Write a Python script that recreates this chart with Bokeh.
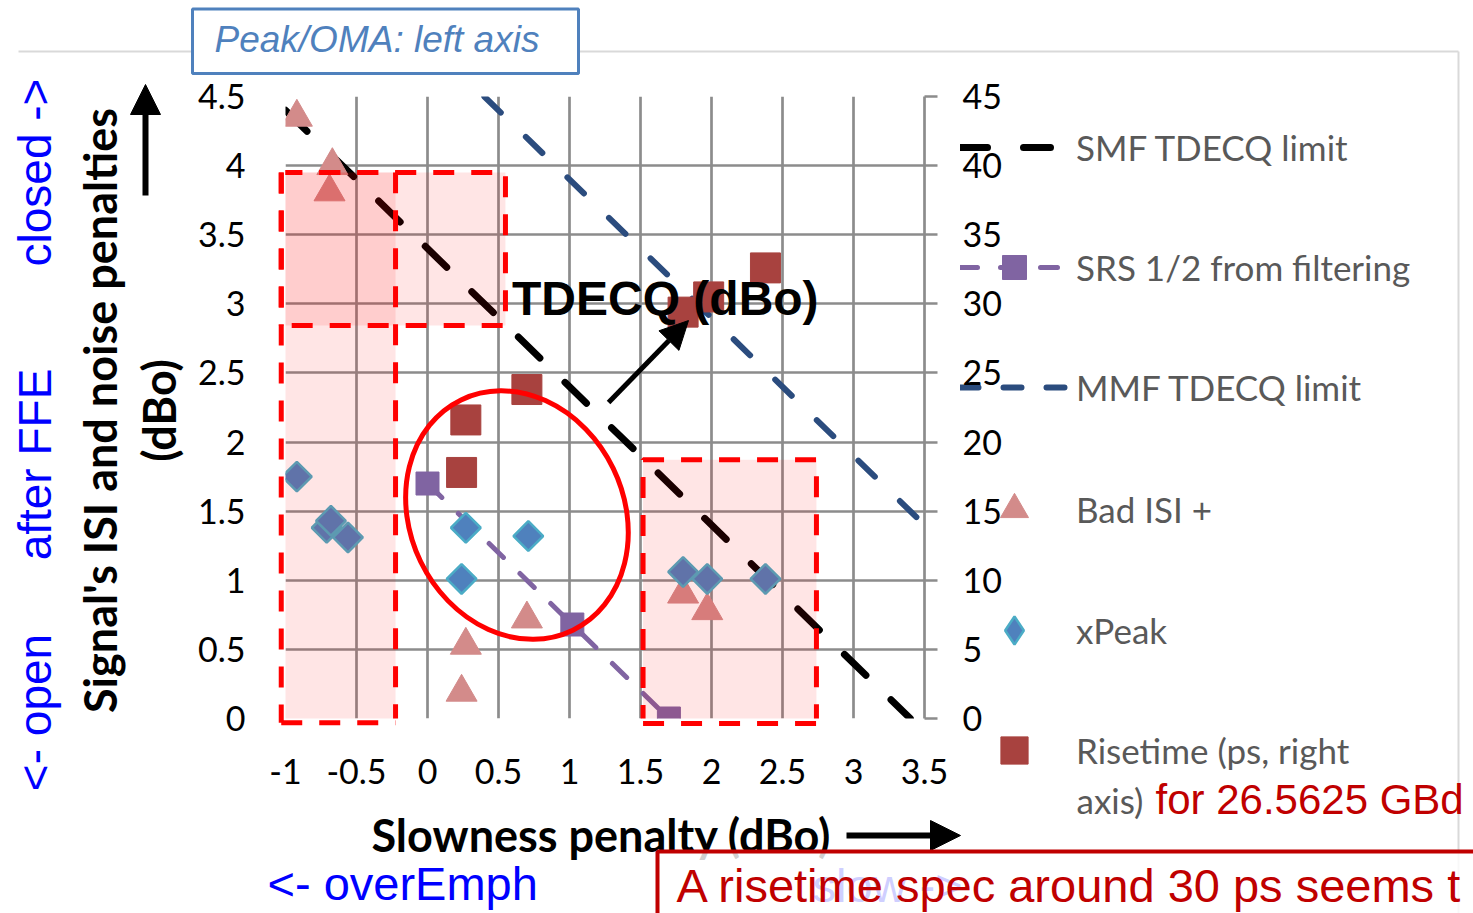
import math
from bokeh.plotting import figure
from bokeh.models import (Range1d, LinearAxis, FixedTicker, NumeralTickFormatter, Label,
                          BoxAnnotation, Arrow, NormalHead, Legend, LegendItem, GridBox)
from bokeh.embed import file_html
from bokeh.resources import INLINE

W, H = 1473, 913
NAN = float("nan")

# ---------------- data ----------------
x_ticks = [-1, -0.5, 0, 0.5, 1, 1.5, 2, 2.5, 3, 3.5]
y_ticks = [0, 0.5, 1, 1.5, 2, 2.5, 3, 3.5, 4, 4.5]
y2_ticks = [0, 5, 10, 15, 20, 25, 30, 35, 40, 45]

smf_x = [-1.0, 3.4]
smf_y = [4.4, 0.0]
mmf_x = [0.4, 3.5]
mmf_y = [4.5, 1.4]
srs_x = [0.0, 1.02, 1.70]
srs_y = [1.70, 0.68, 0.0]
bad_x = [-0.92, -0.67, -0.69, 0.27, 0.24, 0.70, 1.80, 1.97]
bad_y = [4.35, 4.00, 3.81, 0.53, 0.19, 0.72, 0.90, 0.78]
xpk_x = [-0.92, -0.71, -0.68, -0.56, 0.27, 0.71, 0.24, 1.80, 1.97, 2.38]
xpk_y = [1.75, 1.38, 1.43, 1.31, 1.38, 1.32, 1.01, 1.06, 1.01, 1.01]
rt_x = [0.27, 0.24, 0.70, 1.80, 1.98, 2.38]
rt_y = [21.6, 17.8, 23.8, 29.4, 30.5, 32.6]

legend_labels = ["SMF TDECQ limit", "SRS 1/2 from filtering", "MMF TDECQ limit",
                 "Bad ISI +", "xPeak", "Risetime (ps, right"]

# ---------------- geometry / styles ----------------
X0, X1, Y0, Y1 = -1.0, 3.5, 0.0, 4.5
FL, FT, FW, FH = 285, 96, 639, 622          # plot-area frame in page pixels

def page_x(x):
    return FL + (x - X0) / (X1 - X0) * FW

def page_y(y):
    return FT + (Y1 - y) / (Y1 - Y0) * FH

GRID = "#8C8C8C"
LEG_TXT = "#595959"
SMF_ST = dict(line_color="black", line_width=7, line_cap="round")
MMF_ST = dict(line_color="#2B4C7E", line_width=6, line_cap="round")
SRS_LST = dict(line_color="#8064A2", line_width=5, line_cap="round")
SRS_MST = dict(marker="square", fill_color="#8064A2", line_color="#8064A2")
BAD_ST = dict(marker="triangle", fill_color="#D38B8A", line_color="#D38B8A")
XPK_COL = dict(fill_color="#4F81BD", line_color="#4BACC6", line_width=2.5)
RT_ST = dict(marker="square", fill_color="#A8423F", line_color="#A8423F")
BOX_LINE = dict(line_color="#FF0000", line_alpha=1.0, line_width=5, line_dash="21 17")

# shaded regions (left, right, bottom, top) in data units
boxes = [(-1.03, -0.225, -0.03, 3.95), (-1.03, 0.549, 2.843, 3.95), (1.518, 2.739, -0.036, 1.872)]

# ================= main chart =================
p = figure(width=W, height=H, x_range=Range1d(X0, X1), y_range=Range1d(Y0, Y1),
           output_backend="svg", toolbar_location=None,
           min_border_left=FL, min_border_right=W - FL - FW,
           min_border_top=FT, min_border_bottom=H - FT - FH)
p.frame_align = False
p.extra_y_ranges = {"right": Range1d(0, 45)}
p.outline_line_color = None
p.background_fill_color = None
p.border_fill_color = None
p.title.visible = False

p.xgrid.ticker = FixedTicker(ticks=x_ticks)
p.ygrid.ticker = FixedTicker(ticks=y_ticks)
for g in (p.xgrid, p.ygrid):
    g.grid_line_color = GRID
    g.grid_line_width = 2.7

def style_axis(ax, standoff):
    ax.major_tick_in = 0
    ax.minor_tick_out = 0
    ax.minor_tick_in = 0
    ax.major_label_standoff = standoff
    ax.major_label_text_font = "Lato"
    ax.major_label_text_font_size = "34px"
    ax.major_label_text_color = "black"

ya = p.yaxis[0]
ya.ticker = FixedTicker(ticks=y_ticks)
ya.formatter = NumeralTickFormatter(format="0.[0]")
ya.axis_line_color = None
ya.major_tick_out = 0
style_axis(ya, 40)

xa = p.xaxis[0]
xa.ticker = FixedTicker(ticks=x_ticks)
xa.formatter = NumeralTickFormatter(format="0.[0]")
xa.axis_line_color = None
xa.major_tick_out = 0
style_axis(xa, 40)

ra = LinearAxis(y_range_name="right", ticker=FixedTicker(ticks=y2_ticks))
ra.axis_line_color = GRID
ra.axis_line_width = 2.7
ra.major_tick_line_color = GRID
ra.major_tick_line_width = 2.7
ra.major_tick_out = 13
style_axis(ra, 25)
p.add_layout(ra, "right")

# series
p.line(smf_x, smf_y, line_dash="30 35", **SMF_ST)
p.line(mmf_x, mmf_y, line_dash="23 35", **MMF_ST)
p.line(srs_x, srs_y, line_dash="20 23", **SRS_LST)
p.scatter(srs_x, srs_y, size=23, **SRS_MST)
p.scatter(bad_x, bad_y, size=31, **BAD_ST)
p.scatter(xpk_x, xpk_y, size=21, marker="square", angle=math.pi / 4, **XPK_COL)
p.scatter(rt_x, rt_y, y_range_name="right", size=30, **RT_ST)

# red ellipse
p.ellipse(x=[0.630], y=[1.472], width=214, height=256, angle=0.452,
          width_units="screen", height_units="screen",
          fill_color=None, line_color="#FF0000", line_width=5)

# shaded dashed boxes
for l, r, b, t in boxes:
    p.add_layout(BoxAnnotation(left=l, right=r, bottom=b, top=t,
                               fill_color="#FF0000", fill_alpha=0.1, **BOX_LINE))

p.add_layout(Arrow(end=NormalHead(size=28, fill_color="black", line_color="black"),
                   x_start=1.275, y_start=2.286, x_end=1.838, y_end=2.879,
                   line_color="black", line_width=5))
p.add_layout(Label(x=0.595, y=3.04, text="TDECQ (dBo)", text_font="Liberation Sans",
                   text_font_style="bold", text_font_size="48px", text_color="black",
                   text_baseline="middle"))

# ================= page layer (texts, legend, frames outside the plot area) =================
bg = figure(width=W, height=H, x_range=Range1d(0, W), y_range=Range1d(0, H),
            output_backend="svg", toolbar_location=None, x_axis_type=None, y_axis_type=None,
            min_border=0)
bg.frame_align = False
bg.outline_line_color = None
bg.background_fill_color = "white"
bg.border_fill_color = "white"
bg.title.visible = False

def up(py):
    return H - py

# parts of the dashed box outlines lying just outside the plot frame (left and bottom edges)
for l, r, b, t in boxes:
    if l < X0:
        bg.add_layout(Arrow(end=None, x_start=page_x(l), y_start=up(page_y(t)),
                            x_end=page_x(l), y_end=up(page_y(b)), **BOX_LINE))
    if b < Y0:
        bg.add_layout(Arrow(end=None, x_start=page_x(l), y_start=up(page_y(b)),
                            x_end=page_x(r), y_end=up(page_y(b)), **BOX_LINE))

# chart-area border (top and right)
bg.add_layout(Arrow(end=None, x_start=18, y_start=up(51), x_end=1458, y_end=up(51),
                    line_color="#D9D9D9", line_width=2))
bg.add_layout(Arrow(end=None, x_start=1458, y_start=up(51), x_end=1458, y_end=up(925),
                    line_color="#D9D9D9", line_width=2))

# Peak/OMA box
bg.add_layout(BoxAnnotation(left=192, right=578, top=up(8.5), bottom=up(73),
                            fill_color="white", fill_alpha=1, line_color="#4F81BD",
                            line_alpha=1, line_width=3))
bg.add_layout(Label(x=214, y=up(39), text="Peak/OMA: left axis", text_font="Liberation Sans",
                    text_font_style="italic", text_font_size="37px", text_color="#4F81BD",
                    text_baseline="middle"))

# blue side notes
for cy, t in [(172, "closed ->"), (464, "after FFE"), (712, "<- open")]:
    bg.add_layout(Label(x=34, y=up(cy), text=t, angle=math.pi / 2, text_font="Liberation Sans",
                        text_font_size="46px", text_color="#0000FF",
                        text_align="center", text_baseline="middle"))

# y-axis title
bg.add_layout(Label(x=99, y=up(410), text="Signal's ISI and noise penalties", angle=math.pi / 2,
                    text_font="Lato", text_font_style="bold", text_font_size="45px",
                    text_color="black", text_align="center", text_baseline="middle"))
bg.add_layout(Label(x=158, y=up(410), text="(dBo)", angle=math.pi / 2,
                    text_font="Lato", text_font_style="bold", text_font_size="45px",
                    text_color="black", text_align="center", text_baseline="middle"))
bg.add_layout(Arrow(end=NormalHead(size=30, fill_color="black", line_color="black"),
                    x_start=145, y_start=up(195), x_end=145, y_end=up(84),
                    line_color="black", line_width=6))

# x-axis title
bg.add_layout(Label(x=371, y=up(834), text="Slowness penalty (dBo)", text_font="Lato",
                    text_font_style="bold", text_font_size="45px", text_color="black",
                    text_baseline="middle"))
bg.add_layout(Arrow(end=NormalHead(size=30, fill_color="black", line_color="black"),
                    x_start=846, y_start=up(835), x_end=960, y_end=up(835),
                    line_color="black", line_width=6))

bg.add_layout(Label(x=267, y=up(883), text="<- overEmph", text_font="Liberation Sans",
                    text_font_size="47px", text_color="#0000FF", text_baseline="middle"))
bg.add_layout(Label(x=812, y=up(885), text="slow ->", text_font="Liberation Sans",
                    text_font_size="47px", text_color="#0000FF", text_baseline="middle"))
bg.add_layout(BoxAnnotation(left=657, right=1600, top=up(851), bottom=-100,
                            fill_color="white", fill_alpha=0.81,
                            line_color="#C00000", line_alpha=1, line_width=4))
bg.add_layout(Label(x=676, y=up(885), text="A risetime spec around 30 ps seems t",
                    text_font="Liberation Sans", text_font_size="47px", text_color="#C00000",
                    text_baseline="middle"))
bg.add_layout(Label(x=1155, y=up(799), text="for 26.5625 GBd", text_font="Liberation Sans",
                    text_font_size="42px", text_color="#C00000", text_baseline="middle"))
bg.add_layout(Label(x=1076, y=up(799), text="axis)", text_font="Lato",
                    text_font_size="35px", text_color=LEG_TXT, text_baseline="middle"))

# legend keys (styled like the series; no visible points of their own)
k_smf = bg.line(x=[NAN], y=[NAN], line_dash="27 36", **SMF_ST)
k_srs_l = bg.line(x=[NAN], y=[NAN], line_dash="17 23", **SRS_LST)
k_srs_m = bg.scatter(x=[NAN], y=[NAN], **SRS_MST)
k_mmf = bg.line(x=[NAN], y=[NAN], line_dash="18 25", **MMF_ST)
k_bad = bg.scatter(x=[NAN], y=[NAN], **BAD_ST)
k_xpk = bg.scatter(x=[NAN], y=[NAN], marker="diamond", **XPK_COL)
k_rt = bg.scatter(x=[NAN], y=[NAN], **RT_ST)

def add_legend(label, renderers, cy, gh):
    lg = Legend(items=[LegendItem(label=label, renderers=renderers)],
                location=(960, H - (cy + gh / 2)), orientation="vertical",
                glyph_width=108, glyph_height=gh, label_height=gh, label_width=10,
                label_standoff=8, padding=0, margin=0, spacing=0,
                border_line_alpha=0, background_fill_alpha=0,
                label_text_font="Lato", label_text_font_size="35px",
                label_text_color=LEG_TXT, label_text_baseline="middle")
    bg.add_layout(lg)

add_legend(legend_labels[0], [k_smf], 147, 50)
add_legend(legend_labels[1], [k_srs_l, k_srs_m], 267, 60)
add_legend(legend_labels[2], [k_mmf], 387, 50)
add_legend(legend_labels[3], [k_bad], 509, 70)
add_legend(legend_labels[4], [k_xpk], 630, 70)
add_legend(legend_labels[5], [k_rt], 750, 68)

root = GridBox(children=[(bg, 0, 0), (p, 0, 0)])

open("out.html", "w").write(file_html(root, INLINE))
